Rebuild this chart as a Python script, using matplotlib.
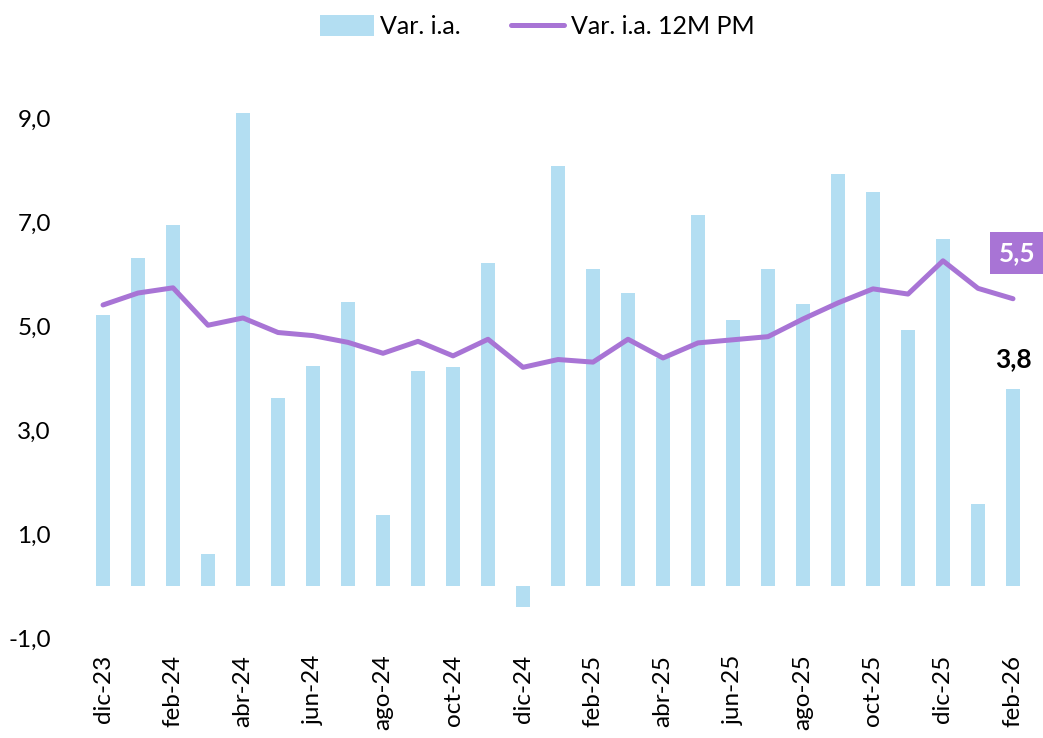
import numpy as np
import matplotlib
matplotlib.use("Agg")
import matplotlib.pyplot as plt

plt.rcParams['font.family'] = ['Lato', 'DejaVu Sans']

meses = ['dic-23', 'ene-24', 'feb-24', 'mar-24', 'abr-24', 'may-24', 'jun-24',
         'jul-24', 'ago-24', 'sep-24', 'oct-24', 'nov-24', 'dic-24', 'ene-25',
         'feb-25', 'mar-25', 'abr-25', 'may-25', 'jun-25', 'jul-25', 'ago-25',
         'sep-25', 'oct-25', 'nov-25', 'dic-25', 'ene-26', 'feb-26']
var_ia = [5.22, 6.32, 6.94, 0.62, 9.10, 3.62, 4.24, 5.47, 1.36, 4.14, 4.21, 6.22,
          -0.40, 8.09, 6.10, 5.64, 4.39, 7.14, 5.12, 6.10, 5.43, 7.93, 7.59, 4.93,
          6.68, 1.57, 3.80]
var_12m = [5.41, 5.64, 5.74, 5.02, 5.16, 4.88, 4.82, 4.69, 4.48, 4.71, 4.43, 4.75,
           4.21, 4.36, 4.31, 4.75, 4.39, 4.68, 4.74, 4.80, 5.14, 5.45, 5.72, 5.62,
           6.26, 5.73, 5.53]

azul = '#B3DEF2'
violeta = '#A874D5'

fig = plt.figure(figsize=(10.43, 7.38), dpi=100)
ax = fig.add_axes([0.082, 0.1355, 0.906, 0.7744])

x = np.arange(len(meses))
barras = ax.bar(x, var_ia, width=0.4, color=azul, label='Var. i.a.', zorder=1)
linea, = ax.plot(x, var_12m, color=violeta, linewidth=3.6, solid_capstyle='round',
                 label='Var. i.a. 12M PM', zorder=2)

ax.set_xlim(-0.5, len(meses) - 0.5)
ax.set_ylim(-1, 10)
ax.set_yticks([-1, 1, 3, 5, 7, 9])
ax.set_yticklabels(['-1,0', '1,0', '3,0', '5,0', '7,0', '9,0'], fontsize=17.5)
ax.set_xticks(x[::2])
ax.set_xticklabels(meses[::2], rotation=90, fontsize=17.5)
ax.tick_params(axis='both', length=0)
ax.tick_params(axis='y', pad=25)
ax.tick_params(axis='x', pad=12)
for s in ax.spines.values():
    s.set_visible(False)

# etiquetas del ultimo dato
ult = len(meses) - 1
ax.annotate(f'{var_12m[-1]:.1f}'.replace('.', ','), (x[ult], var_12m[-1]),
            xytext=(3, 33), textcoords='offset points', ha='center', va='center',
            fontsize=19, fontweight='bold', color='white',
            bbox=dict(boxstyle='square,pad=0.35', fc=violeta, ec='none'))
ax.annotate(f'{var_ia[-1]:.1f}'.replace('.', ','), (x[ult], var_ia[-1]),
            xytext=(0, 21), textcoords='offset points', ha='center', va='center',
            fontsize=19, fontweight='bold', color='black')

fig.legend([barras, linea], ['Var. i.a.', 'Var. i.a. 12M PM'],
           loc='upper center', bbox_to_anchor=(0.515, 1.01), ncol=2, frameon=False,
           fontsize=18, handlelength=2.15, handleheight=0.9, columnspacing=2.0,
           handletextpad=0.25)

fig.savefig('out.png', dpi=100, facecolor='white')
